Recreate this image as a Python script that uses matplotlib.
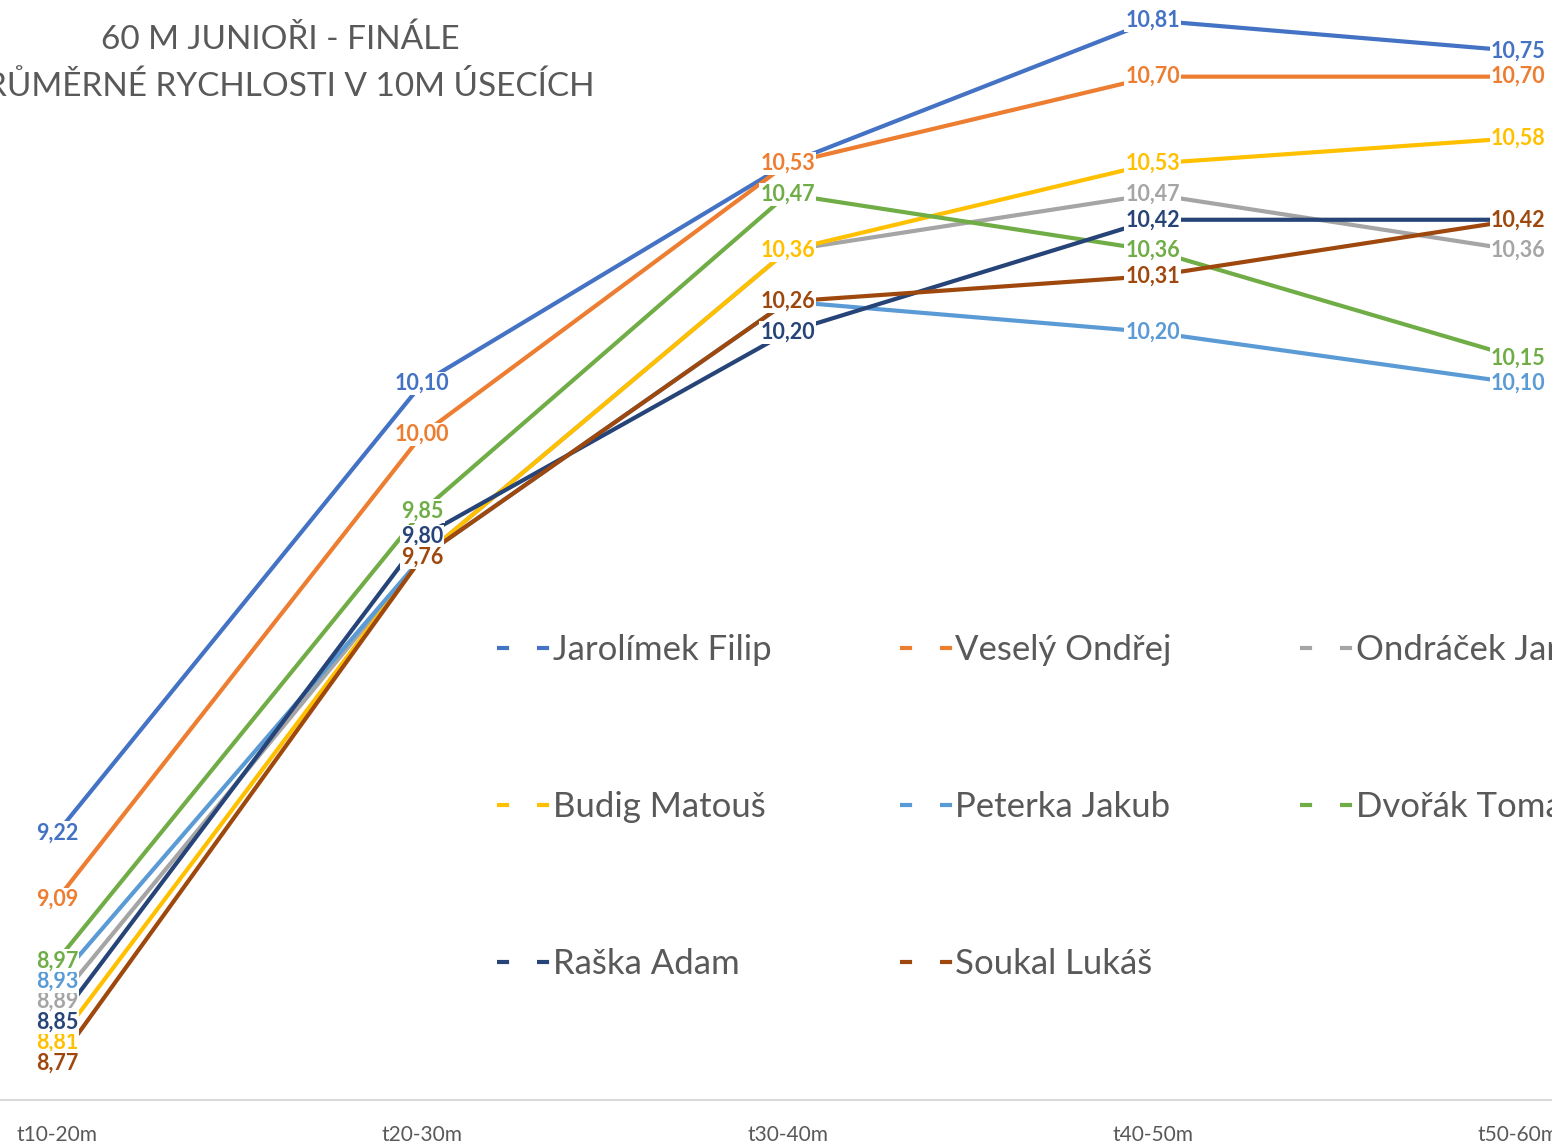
import matplotlib.pyplot as plt
from matplotlib.lines import Line2D

# kategorie (úseky)
useky = ['t10-20m', 't20-30m', 't30-40m', 't40-50m', 't50-60m']

# průměrné rychlosti závodníků v úsecích (m/s)
jmena = ['Jarolímek Filip', 'Veselý Ondřej', 'Ondráček Jan', 'Budig Matouš',
         'Peterka Jakub', 'Dvořák Tomáš', 'Raška Adam', 'Soukal Lukáš']
jarolimek = [9.22, 10.10, 10.53, 10.81, 10.75]
vesely = [9.09, 10.00, 10.53, 10.70, 10.70]
ondracek = [8.89, 9.76, 10.36, 10.47, 10.36]
budig = [8.81, 9.76, 10.36, 10.53, 10.58]
peterka = [8.93, 9.76, 10.26, 10.20, 10.10]
dvorak = [8.97, 9.85, 10.47, 10.36, 10.15]
raska = [8.85, 9.80, 10.20, 10.42, 10.42]
soukal = [8.77, 9.76, 10.26, 10.31, 10.42]
serie = [jarolimek, vesely, ondracek, budig, peterka, dvorak, raska, soukal]

barvy = ['#4472C4', '#ED7D31', '#A5A5A5', '#FFC000',
         '#5B9BD5', '#70AD47', '#264478', '#9E480E']

plt.rcParams['font.family'] = ['Lato', 'DejaVu Sans']

fig = plt.figure(figsize=(15.52, 11.47), dpi=100)
ax = fig.add_axes([0, 47 / 1147, 1, 1100 / 1147])

x = list(range(len(useky)))
for i, (vals, c) in enumerate(zip(serie, barvy)):
    ax.plot(x, vals, color=c, linewidth=3, solid_capstyle='butt', zorder=2)

# popisky hodnot (bílé pozadí přes čáry)
for i, (vals, c) in enumerate(zip(serie, barvy)):
    for xi, v in zip(x, vals):
        ax.text(xi, v, f'{v:.2f}'.replace('.', ','), color=c, fontsize=15.5,
                fontweight='bold', ha='center', va='center', zorder=10 + i,
                bbox=dict(boxstyle='square,pad=0.05', fc='white', ec='none'))

ax.set_xlim(-0.156, 4.093)
ax.set_ylim(8.6976, 10.850)

for s in ['top', 'right', 'left']:
    ax.spines[s].set_visible(False)
ax.spines['bottom'].set_color('#D9D9D9')
ax.spines['bottom'].set_linewidth(1.5)
ax.set_yticks([])
ax.set_xticks(x, useky)
ax.tick_params(axis='x', length=0, pad=18, labelsize=15, colors='#595959')

# titulek
fig.text(280 / 1552, 1 - 40 / 1147, '60 M JUNIOŘI - FINÁLE', ha='center',
         va='center', fontsize=24, color='#595959')
fig.text(280 / 1552, 1 - 87 / 1147, 'PRŮMĚRNÉ RYCHLOSTI V 10M ÚSECÍCH',
         ha='center', va='center', fontsize=24, color='#595959')

# legenda (řádky jako v Excelu -> přeuspořádat pro plnění po sloupcích)
poradi = [0, 3, 6, 1, 4, 7, 2, 5]
handles = [Line2D([], [], color=barvy[k], linewidth=3,
                  linestyle=(0, (2.9, 6.7))) for k in poradi]
labels = [jmena[k] for k in poradi]
leg = fig.legend(handles, labels, ncol=3, loc='upper left',
                 bbox_to_anchor=(466 / 1552, 1 - 603 / 1147), frameon=False,
                 fontsize=25, handlelength=1.6, handletextpad=0.0,
                 columnspacing=3.7, labelspacing=3.6)
for t in leg.get_texts():
    t.set_color('#595959')

fig.savefig('out.png', dpi=100, facecolor='white')
